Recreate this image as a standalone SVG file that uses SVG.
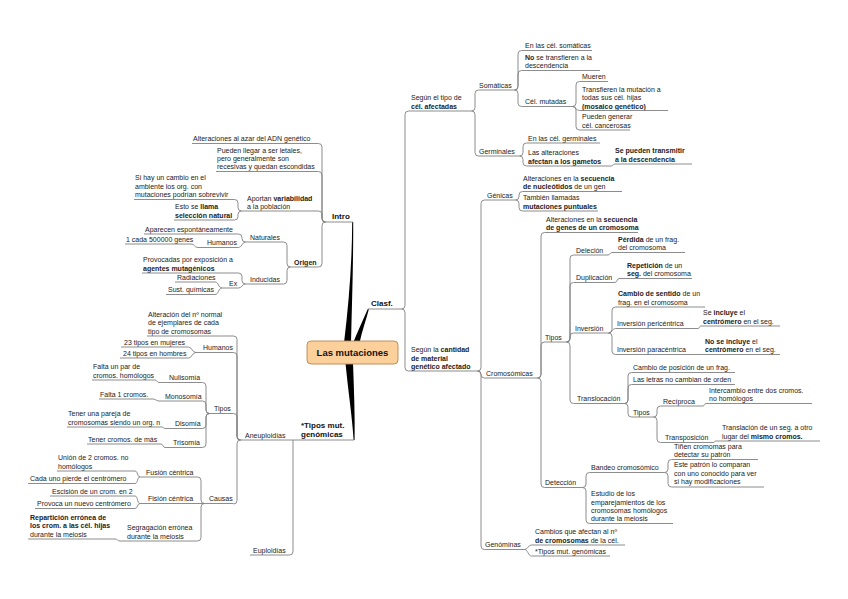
<svg xmlns="http://www.w3.org/2000/svg" width="848" height="599" viewBox="0 0 848 599">
<style>
.t{font-family:"Liberation Sans",Arial,sans-serif;font-size:7px;fill:#222}
.b{font-weight:bold}
.m{font-family:"Liberation Sans",Arial,sans-serif;font-size:8px;font-weight:bold;fill:#111}
.u{fill:none;stroke:#808080;stroke-width:0.9}
.k{fill:#000}
</style>
<rect width="848" height="599" fill="#fff"/>
<g id="connectors">
<path class="k" d="M352.2,222 C352,262 349,302 344,343 L351,343 C352,302 353.4,262 353.2,222 Z"/>
<path class="k" d="M368,308.6 C363,320 358,331 353,343 L359.5,343 C362,331 366,320 368.8,309.4 Z"/>
<path class="k" d="M345.5,363 C348,390 352,415 353.6,440 L354.6,440 C355,415 354,390 353,363 Z"/>
<g class="u">
<path d="M318.5,143.5 Q322,143.5 322,147 V218.5 Q322,222 325.5,222"/>
<path d="M318.5,171.5 Q322,171.5 322,175 V218.5 Q322,222 325.5,222"/>
<path d="M318.5,211 Q322,211 322,214.5 V218.5 Q322,222 325.5,222"/>
<path d="M318.5,267 Q322,267 322,263.5 V225.5 Q322,222 325.5,222"/>
<path d="M234.5,199.5 Q238,199.5 238,203 V207.5 Q238,211 241.5,211"/>
<path d="M234.5,220 Q238,220 238,216.5 V214.5 Q238,211 241.5,211"/>
<path d="M283.5,242 Q287,242 287,245.5 V263.5 Q287,267 290.5,267"/>
<path d="M283.5,284 Q287,284 287,280.5 V270.5 Q287,267 290.5,267"/>
<path d="M238.5,234 Q242,234 242,237.5 V238.5 Q242,242 245.5,242"/>
<path d="M238.5,247.5 C242,247.5 242,242 245.5,242"/>
<path d="M191,244 C195,244 194,247.5 198,247.5"/>
<path d="M238.5,273 Q242,273 242,276.5 V280.5 Q242,284 245.5,284"/>
<path d="M238.5,288 C242,288 242,284 245.5,284"/>
<path d="M215,282 C219,282 218,288 222,288"/>
<path d="M215,294.5 C219,294.5 218,288 222,288"/>
<path d="M289.5,555 Q293,555 293,551.5 V440"/>
<path d="M233.5,336 Q237,336 237,339.5 V436.5 Q237,440 240.5,440"/>
<path d="M233.5,352.5 Q237,352.5 237,356 V436.5 Q237,440 240.5,440"/>
<path d="M233.5,413.5 Q237,413.5 237,417 V436.5 Q237,440 240.5,440"/>
<path d="M233.5,504 Q237,504 237,500.5 V443.5 Q237,440 240.5,440"/>
<path d="M188.5,347 C192,347 192,352.5 196,352.5"/>
<path d="M188.5,358 C192,358 192,352.5 196,352.5"/>
<path d="M202.5,382.5 Q206,382.5 206,386 V410 Q206,413.5 209.5,413.5"/>
<path d="M202.5,401 Q206,401 206,404.5 V410 Q206,413.5 209.5,413.5"/>
<path d="M202.5,428.5 Q206,428.5 206,425 V417 Q206,413.5 209.5,413.5"/>
<path d="M202.5,447.5 Q206,447.5 206,444 V417 Q206,413.5 209.5,413.5"/>
<path d="M155,380 C157,380 157,382.5 159,382.5"/>
<path d="M153,399 C156,399 156,401 159,401"/>
<path d="M162,427 C163.5,427 163.5,428.5 165,428.5"/>
<path d="M161,444 C163,444 163,447.5 165,447.5"/>
<path d="M197.5,477 Q201,477 201,480.5 V500 Q201,503.5 204.5,503.5"/>
<path d="M197.5,541 Q201,541 201,537.5 V507 Q201,503.5 204.5,503.5"/>
<path d="M135,471 C138,471 137,477 140,477"/>
<path d="M135,483.5 C138,483.5 137,477 140,477"/>
<path d="M135,496 C138,496 137,503.5 140,503.5"/>
<path d="M135,508.5 C138,508.5 137,503.5 140,503.5"/>
<path d="M115,539 C117.5,539 117.5,541 120,541"/>
<path d="M401.5,309 Q405,309 405,305.5 V114.5 Q405,111 408.5,111"/>
<path d="M401.5,309 Q405,309 405,312.5 V367.5 Q405,371 408.5,371"/>
<path d="M471.5,111 Q475,111 475,107.5 V93.5 Q475,90 478.5,90"/>
<path d="M471.5,111 Q475,111 475,114.5 V152.5 Q475,156 478.5,156"/>
<path d="M514.5,90 Q518,90 518,86.5 V54 Q518,50.5 521.5,50.5"/>
<path d="M514.5,90 Q518,90 518,86.5 V74 Q518,70.5 521.5,70.5"/>
<path d="M514.5,90 Q518,90 518,93.5 V103 Q518,106.5 521.5,106.5"/>
<path d="M572.5,106.5 Q576,106.5 576,103 V85 Q576,81.5 579.5,81.5"/>
<path d="M572.5,106.5 C576,106.5 576,110.5 579.5,110.5"/>
<path d="M572.5,106.5 Q576,106.5 576,110 V126.5 Q576,130 579.5,130"/>
<path d="M519.5,156 Q523,156 523,152.5 V146.5 Q523,143 526.5,143"/>
<path d="M519.5,156 Q523,156 523,159.5 V162.5 Q523,166 526.5,166"/>
<path d="M611,166 C613,166 613,164 615,164"/>
<path d="M477.5,371 Q481,371 481,367.5 V203.5 Q481,200 484.5,200"/>
<path d="M477.5,371 Q481,371 481,374.5 Q481,378 484.5,378"/>
<path d="M477.5,371 Q481,371 481,374.5 V546 Q481,549.5 484.5,549.5"/>
<path d="M515.5,200 Q519,200 519,196.5 V195 Q519,191.5 522.5,191.5"/>
<path d="M515.5,200 Q519,200 519,203.5 V207.5 Q519,211 522.5,211"/>
<path d="M537.5,378 Q541,378 541,374.5 V236 Q541,232.5 544.5,232.5"/>
<path d="M537.5,378 Q541,378 541,374.5 V345.5 Q541,342 544.5,342"/>
<path d="M537.5,378 Q541,378 541,381.5 V484 Q541,487.5 544.5,487.5"/>
<path d="M566.5,342 Q570,342 570,338.5 V258.5 Q570,255 573.5,255"/>
<path d="M566.5,342 Q570,342 570,338.5 V286 Q570,282.5 573.5,282.5"/>
<path d="M566.5,342 Q570,342 570,338.5 V336.5 Q570,333 573.5,333"/>
<path d="M566.5,342 Q570,342 570,345.5 V400 Q570,403.5 573.5,403.5"/>
<path d="M608,255 C610,255 610,252.5 612,252.5"/>
<path d="M615,282.5 C617,282.5 617,278.5 619,278.5"/>
<path d="M608.5,333 Q612,333 612,329.5 V310.5 Q612,307 615.5,307"/>
<path d="M608.5,333 C612,333 612,328.5 615.5,328.5"/>
<path d="M608.5,333 Q612,333 612,336.5 V351 Q612,354.5 615.5,354.5"/>
<path d="M698,328.5 C699.5,328.5 699.5,326 701,326"/>
<path d="M624.5,403.5 Q628,403.5 628,400 V376 Q628,372.5 631.5,372.5"/>
<path d="M624.5,403.5 Q628,403.5 628,400 V388 Q628,384.5 631.5,384.5"/>
<path d="M624.5,403.5 Q628,403.5 628,407 V413.5 Q628,417 631.5,417"/>
<path d="M653.5,417 Q657,417 657,413.5 V409.5 Q657,406 660.5,406"/>
<path d="M653.5,417 Q657,417 657,420.5 V439 Q657,442.5 660.5,442.5"/>
<path d="M703,406 C704.5,406 704.5,403.5 706,403.5"/>
<path d="M713,442.5 C714.5,442.5 714.5,441 716,441"/>
<path d="M582.5,487.5 Q586,487.5 586,484 V476 Q586,472.5 589.5,472.5"/>
<path d="M582.5,487.5 Q586,487.5 586,491 V520 Q586,523.5 589.5,523.5"/>
<path d="M664.5,472.5 Q668,472.5 668,469 V463 Q668,459.5 671.5,459.5"/>
<path d="M664.5,472.5 Q668,472.5 668,476 V483.5 Q668,487 671.5,487"/>
<path d="M524.5,549.5 C528,549.5 528,545 531.5,545"/>
<path d="M524.5,549.5 C528,549.5 528,556 531.5,556"/>
</g>
</g>

<g id="center">
<rect x="307" y="341" width="91" height="23" rx="4" fill="#fcd09a" stroke="#b8874f" stroke-width="0.9"/>
<text x="352.5" y="356" text-anchor="middle" font-family="Liberation Sans, Arial, sans-serif" font-size="9.5" font-weight="bold" fill="#111">Las mutaciones</text>
</g>

<g id="n-intro"><text class="m" x="332" y="219">Intro</text><path class="u" d="M325.5,222 H353"/></g>
<g id="n-alt-azar"><text class="t" x="193" y="141">Alteraciones al azar del ADN genético</text><path class="u" d="M192,143.5 H318.5"/></g>
<g id="n-letales"><text class="t"><tspan x="217" y="153">Pueden llegar a ser letales,</tspan><tspan x="217" y="161">pero generalmente son</tspan><tspan x="217" y="169">recesivas y quedan escondidas</tspan></text><path class="u" d="M216,171.5 H318.5"/></g>
<g id="n-variabilidad"><text class="t"><tspan x="247" y="200.5">Aportan <tspan class="b">variabilidad</tspan></tspan><tspan x="247" y="208.5">a la población</tspan></text><path class="u" d="M241.5,211 H318.5"/></g>
<g id="n-si-hay"><text class="t"><tspan x="135" y="180.4">Si hay un cambio en el</tspan><tspan x="135" y="188.7">ambiente los org. con</tspan><tspan x="135" y="197">mutaciones podrían sobrevivir</tspan></text><path class="u" d="M134,199.5 H234.5"/></g>
<g id="n-esto"><text class="t"><tspan x="175" y="209.2">Esto se <tspan class="b">llama</tspan></tspan><tspan x="175" y="217.5" class="b">selección natural</tspan></text><path class="u" d="M174,220 H234.5"/></g>
<g id="n-origen"><text class="t b" x="294" y="264.5">Origen</text><path class="u" d="M290.5,267 H318.5"/></g>
<g id="n-naturales"><text class="t" x="250" y="239.5">Naturales</text><path class="u" d="M245.5,242 H283.5"/></g>
<g id="n-aparecen"><text class="t" x="145" y="231.5">Aparecen espontáneamente</text><path class="u" d="M144,234 H238.5"/></g>
<g id="n-humanos1"><text class="t" x="207" y="245">Humanos</text><path class="u" d="M198,247.5 H238.5"/></g>
<g id="n-1cada"><text class="t" x="126" y="241.5">1 cada 500000 genes</text><path class="u" d="M125,244 H191"/></g>
<g id="n-inducidas"><text class="t" x="250" y="281.5">Inducidas</text><path class="u" d="M245.5,284 H283.5"/></g>
<g id="n-provocadas"><text class="t"><tspan x="143" y="262.2">Provocadas por exposición a</tspan><tspan x="143" y="270.5" class="b">agentes mutagénicos</tspan></text><path class="u" d="M142,273 H238.5"/></g>
<g id="n-ex"><text class="t" x="229" y="285.5">Ex</text><path class="u" d="M222,288 H238.5"/></g>
<g id="n-radiaciones"><text class="t" x="177" y="279.5">Radiaciones</text><path class="u" d="M175,282 H215"/></g>
<g id="n-sust"><text class="t" x="168" y="292">Sust. químicas</text><path class="u" d="M166,294.5 H215"/></g>

<g id="n-tipos-mut"><text class="m"><tspan x="301" y="427.5">*Tipos mut.</tspan><tspan x="301" y="437">genómicas</tspan></text><path class="u" d="M293,440 H354"/></g>
<g id="n-aneuploidias"><text class="t" x="245" y="437.5">Aneuploidías</text><path class="u" d="M240.5,440 H293"/></g>
<g id="n-euploidias"><text class="t" x="253" y="552.5">Euploidías</text><path class="u" d="M250,555 H289.5"/></g>
<g id="n-alteracion-n"><text class="t"><tspan x="148" y="317">Alteración del nº normal</tspan><tspan x="148" y="325.3">de ejemplares de cada</tspan><tspan x="148" y="333.5">tipo de cromosomas</tspan></text><path class="u" d="M147,336 H233.5"/></g>
<g id="n-humanos2"><text class="t" x="203" y="350">Humanos</text><path class="u" d="M196,352.5 H233.5"/></g>
<g id="n-23tipos"><text class="t" x="124" y="344.5">23 tipos en mujeres</text><path class="u" d="M121,347 H188.5"/></g>
<g id="n-24tipos"><text class="t" x="123" y="355.5">24 tipos en hombres</text><path class="u" d="M120,358 H188.5"/></g>
<g id="n-tipos-l"><text class="t" x="214" y="411">Tipos</text><path class="u" d="M209.5,413.5 H233.5"/></g>
<g id="n-nulisomia"><text class="t" x="169" y="380">Nulisomía</text><path class="u" d="M159,382.5 H202.5"/></g>
<g id="n-falta-par"><text class="t"><tspan x="93" y="369.2">Falta un par de</tspan><tspan x="93" y="377.5">cromos. homólogos</tspan></text><path class="u" d="M92,380 H155"/></g>
<g id="n-monosomia"><text class="t" x="165" y="398.5">Monosomía</text><path class="u" d="M159,401 H202.5"/></g>
<g id="n-falta1"><text class="t" x="100" y="396.5">Falta 1 cromos.</text><path class="u" d="M99,399 H153"/></g>
<g id="n-disomia"><text class="t" x="175" y="426">Disomía</text><path class="u" d="M165,428.5 H202.5"/></g>
<g id="n-tener-pareja"><text class="t"><tspan x="68" y="416.2">Tener una pareja de</tspan><tspan x="68" y="424.5">cromosomas siendo un org. n</tspan></text><path class="u" d="M67,427 H162"/></g>
<g id="n-trisomia"><text class="t" x="173" y="445">Trisomía</text><path class="u" d="M165,447.5 H202.5"/></g>
<g id="n-tener-mas"><text class="t" x="88" y="441.5">Tener cromos. de más</text><path class="u" d="M87,444 H161"/></g>
<g id="n-causas"><text class="t" x="209" y="501">Causas</text><path class="u" d="M204.5,503.5 H233.5"/></g>
<g id="n-fusion"><text class="t" x="146" y="474.5">Fusión céntrica</text><path class="u" d="M140,477 H197.5"/></g>
<g id="n-union"><text class="t"><tspan x="58" y="460.2">Unión de 2 cromos. no</tspan><tspan x="58" y="468.5">homólogos</tspan></text><path class="u" d="M57,471 H135"/></g>
<g id="n-cada-uno"><text class="t" x="30" y="481">Cada uno pierde el centrómero</text><path class="u" d="M28,483.5 H135"/></g>
<g id="n-fision"><text class="t" x="148" y="501">Fisión céntrica</text><path class="u" d="M140,503.5 H204.5"/></g>
<g id="n-escision"><text class="t" x="52" y="493.5">Escisión de un crom. en 2</text><path class="u" d="M50,496 H135"/></g>
<g id="n-provoca"><text class="t" x="37" y="506">Provoca un nuevo centrómero</text><path class="u" d="M35,508.5 H135"/></g>
<g id="n-segragacion"><text class="t"><tspan x="127" y="530.2">Segragación errónea</tspan><tspan x="127" y="538.5">durante la meiosis</tspan></text><path class="u" d="M120,541 H197.5"/></g>
<g id="n-reparticion"><text class="t"><tspan x="30" y="519.9" class="b">Repartición errónea de</tspan><tspan x="30" y="528.2" class="b">los crom. a las cél. hijas</tspan><tspan x="30" y="536.5">durante la meiosis</tspan></text><path class="u" d="M28,539 H115"/></g>

<g id="n-clasf"><text class="m" x="371" y="306">Clasf.</text><path class="u" d="M368,309 H401.5"/></g>
<g id="n-segun-tipo"><text class="t"><tspan x="411" y="100.2">Según el tipo de</tspan><tspan x="411" y="108.5" class="b">cél. afectadas</tspan></text><path class="u" d="M408.5,111 H471.5"/></g>
<g id="n-somaticas"><text class="t" x="479" y="87.5">Somáticas</text><path class="u" d="M478.5,90 H514.5"/></g>
<g id="n-en-somaticas"><text class="t" x="525" y="48">En las cél. somáticas</text><path class="u" d="M521.5,50.5 H592"/></g>
<g id="n-no-transf"><text class="t"><tspan x="525" y="59.7"><tspan class="b">No</tspan> se transfieren a la</tspan><tspan x="525" y="68">descendencia</tspan></text><path class="u" d="M521.5,70.5 H600"/></g>
<g id="n-cel-mutadas"><text class="t" x="525" y="104">Cél. mutadas</text><path class="u" d="M521.5,106.5 H572.5"/></g>
<g id="n-mueren"><text class="t" x="582" y="79">Mueren</text><path class="u" d="M579.5,81.5 H608"/></g>
<g id="n-transfieren"><text class="t"><tspan x="582" y="91.9">Transfieren la mutación a</tspan><tspan x="582" y="100.2">todas sus cél. hijas</tspan><tspan x="582" y="108.5" class="b">(mosaico genético)</tspan></text><path class="u" d="M579.5,110.5 H668"/></g>
<g id="n-pueden-generar"><text class="t"><tspan x="582" y="119.2">Pueden generar</tspan><tspan x="582" y="127.5">cél. cancerosas</tspan></text><path class="u" d="M579.5,130 H630"/></g>
<g id="n-germinales"><text class="t" x="479" y="153.5">Germinales</text><path class="u" d="M478.5,156 H519.5"/></g>
<g id="n-en-germinales"><text class="t" x="528" y="140.5">En las cél. germinales</text><path class="u" d="M526.5,143 H600"/></g>
<g id="n-las-alteraciones"><text class="t"><tspan x="528" y="155.2">Las alteraciones</tspan><tspan x="528" y="163.5" class="b">afectan a los gametos</tspan></text><path class="u" d="M526.5,166 H611"/></g>
<g id="n-se-pueden"><text class="t b"><tspan x="615" y="153.2">Se pueden transmitir</tspan><tspan x="615" y="161.5">a la descendencia</tspan></text><path class="u" d="M615,164 H692"/></g>
<g id="n-segun-cantidad"><text class="t"><tspan x="411" y="352.4">Según la <tspan class="b">cantidad</tspan></tspan><tspan x="411" y="360.5" class="b">de material</tspan><tspan x="411" y="368.5" class="b">genético afectado</tspan></text><path class="u" d="M408.5,371 H477.5"/></g>
<g id="n-genicas"><text class="t" x="487" y="197.5">Génicas</text><path class="u" d="M484.5,200 H515.5"/></g>
<g id="n-alt-nucleotidos"><text class="t"><tspan x="523" y="180.7">Alteraciones en la <tspan class="b">secuencia</tspan></tspan><tspan x="523" y="189"><tspan class="b">de nucleótidos</tspan> de un gen</tspan></text><path class="u" d="M522.5,191.5 H622"/></g>
<g id="n-tambien"><text class="t"><tspan x="523" y="200.2">También llamadas</tspan><tspan x="523" y="208.5" class="b">mutaciones puntuales</tspan></text><path class="u" d="M522.5,211 H598"/></g>
<g id="n-cromosomicas"><text class="t" x="486" y="375.5">Cromosómicas</text><path class="u" d="M484.5,378 H537.5"/></g>
<g id="n-alt-genes"><text class="t"><tspan x="546" y="221.7">Alteraciones en la <tspan class="b">secuencia</tspan></tspan><tspan x="546" y="230" class="b">de genes de un cromosoma</tspan></text><path class="u" d="M544.5,232.5 H638"/></g>
<g id="n-tipos-r"><text class="t" x="545" y="339.5">Tipos</text><path class="u" d="M544.5,342 H566.5"/></g>
<g id="n-delecion"><text class="t" x="576" y="252.5">Deleción</text><path class="u" d="M573.5,255 H608"/></g>
<g id="n-perdida"><text class="t"><tspan x="618" y="241.7"><tspan class="b">Pérdida</tspan> de un frag.</tspan><tspan x="618" y="250">del cromosoma</tspan></text><path class="u" d="M612,252.5 H685"/></g>
<g id="n-duplicacion"><text class="t" x="576" y="280">Duplicación</text><path class="u" d="M573.5,282.5 H615"/></g>
<g id="n-repeticion"><text class="t"><tspan x="627" y="267.7"><tspan class="b">Repetición</tspan> de un</tspan><tspan x="627" y="276"><tspan class="b">seg.</tspan> del cromosoma</tspan></text><path class="u" d="M619,278.5 H692"/></g>
<g id="n-inversion"><text class="t" x="575" y="330.5">Inversión</text><path class="u" d="M573.5,333 H608.5"/></g>
<g id="n-cambio-sentido"><text class="t"><tspan x="618" y="296.2"><tspan class="b">Cambio de sentido</tspan> de un</tspan><tspan x="618" y="304.5">frag. en el cromosoma</tspan></text><path class="u" d="M615.5,307 H705"/></g>
<g id="n-pericentrica"><text class="t" x="617" y="326">Inversión pericéntrica</text><path class="u" d="M615.5,328.5 H698"/></g>
<g id="n-se-incluye"><text class="t"><tspan x="703" y="315.2">Se <tspan class="b">incluye</tspan> el</tspan><tspan x="703" y="323.5"><tspan class="b">centrómero</tspan> en el seg.</tspan></text><path class="u" d="M701,326 H780"/></g>
<g id="n-paracentrica"><text class="t" x="617" y="352">Inversión paracéntrica</text><path class="u" d="M615.5,354.5 H698"/></g>
<g id="n-no-incluye"><text class="t"><tspan x="705" y="343.7"><tspan class="b">No se incluye</tspan> el</tspan><tspan x="705" y="352"><tspan class="b">centrómero</tspan> en el seg.</tspan></text><path class="u" d="M698,354.5 H780"/></g>
<g id="n-translocacion"><text class="t" x="577" y="401">Translocación</text><path class="u" d="M573.5,403.5 H624.5"/></g>
<g id="n-cambio-posicion"><text class="t" x="633" y="370">Cambio de posición de un frag.</text><path class="u" d="M631.5,372.5 H735"/></g>
<g id="n-las-letras"><text class="t" x="633" y="382">Las letras no cambian de orden</text><path class="u" d="M631.5,384.5 H735"/></g>
<g id="n-tipos-3"><text class="t" x="633" y="414.5">Tipos</text><path class="u" d="M631.5,417 H653.5"/></g>
<g id="n-reciproca"><text class="t" x="663" y="403.5">Recíproca</text><path class="u" d="M660.5,406 H703"/></g>
<g id="n-intercambio"><text class="t"><tspan x="709" y="392.7">Intercambio entre dos cromos.</tspan><tspan x="709" y="401">no homólogos</tspan></text><path class="u" d="M706,403.5 H812"/></g>
<g id="n-transposicion"><text class="t" x="665" y="440">Transposición</text><path class="u" d="M660.5,442.5 H713"/></g>
<g id="n-translacion"><text class="t"><tspan x="722" y="429.5">Translación de un seg. a otro</tspan><tspan x="722" y="438.5">lugar del <tspan class="b">mismo cromos.</tspan></tspan></text><path class="u" d="M716,441 H820"/></g>
<g id="n-deteccion"><text class="t" x="545" y="485">Detección</text><path class="u" d="M544.5,487.5 H582.5"/></g>
<g id="n-bandeo"><text class="t" x="591" y="470">Bandeo cromosómico</text><path class="u" d="M589.5,472.5 H664.5"/></g>
<g id="n-tinen"><text class="t"><tspan x="674" y="448.5">Tiñen cromomas para</tspan><tspan x="674" y="457">detectar su patrón</tspan></text><path class="u" d="M671.5,459.5 H758"/></g>
<g id="n-este-patron"><text class="t"><tspan x="674" y="467.2">Este patrón lo comparan</tspan><tspan x="674" y="475.5">con uno conocido para ver</tspan><tspan x="674" y="484">si hay modificaciones</tspan></text><path class="u" d="M671.5,487 H764"/></g>
<g id="n-estudio"><text class="t"><tspan x="591" y="496">Estudio de los</tspan><tspan x="591" y="504.5">emparejamientos de los</tspan><tspan x="591" y="513">cromosomas homólogos</tspan><tspan x="591" y="521">durante la meiosis</tspan></text><path class="u" d="M589.5,523.5 H673"/></g>
<g id="n-genominas"><text class="t" x="485" y="547">Genóminas</text><path class="u" d="M484.5,549.5 H524.5"/></g>
<g id="n-cambios"><text class="t"><tspan x="535" y="534.2">Cambios que afectan al nº</tspan><tspan x="535" y="542.5"><tspan class="b">de cromosomas</tspan> de la cél.</tspan></text><path class="u" d="M531.5,545 H625"/></g>
<g id="n-tipos-gen"><text class="t" x="535" y="553.5">*Tipos mut. genómicas</text><path class="u" d="M531.5,556 H610"/></g>
</svg>
